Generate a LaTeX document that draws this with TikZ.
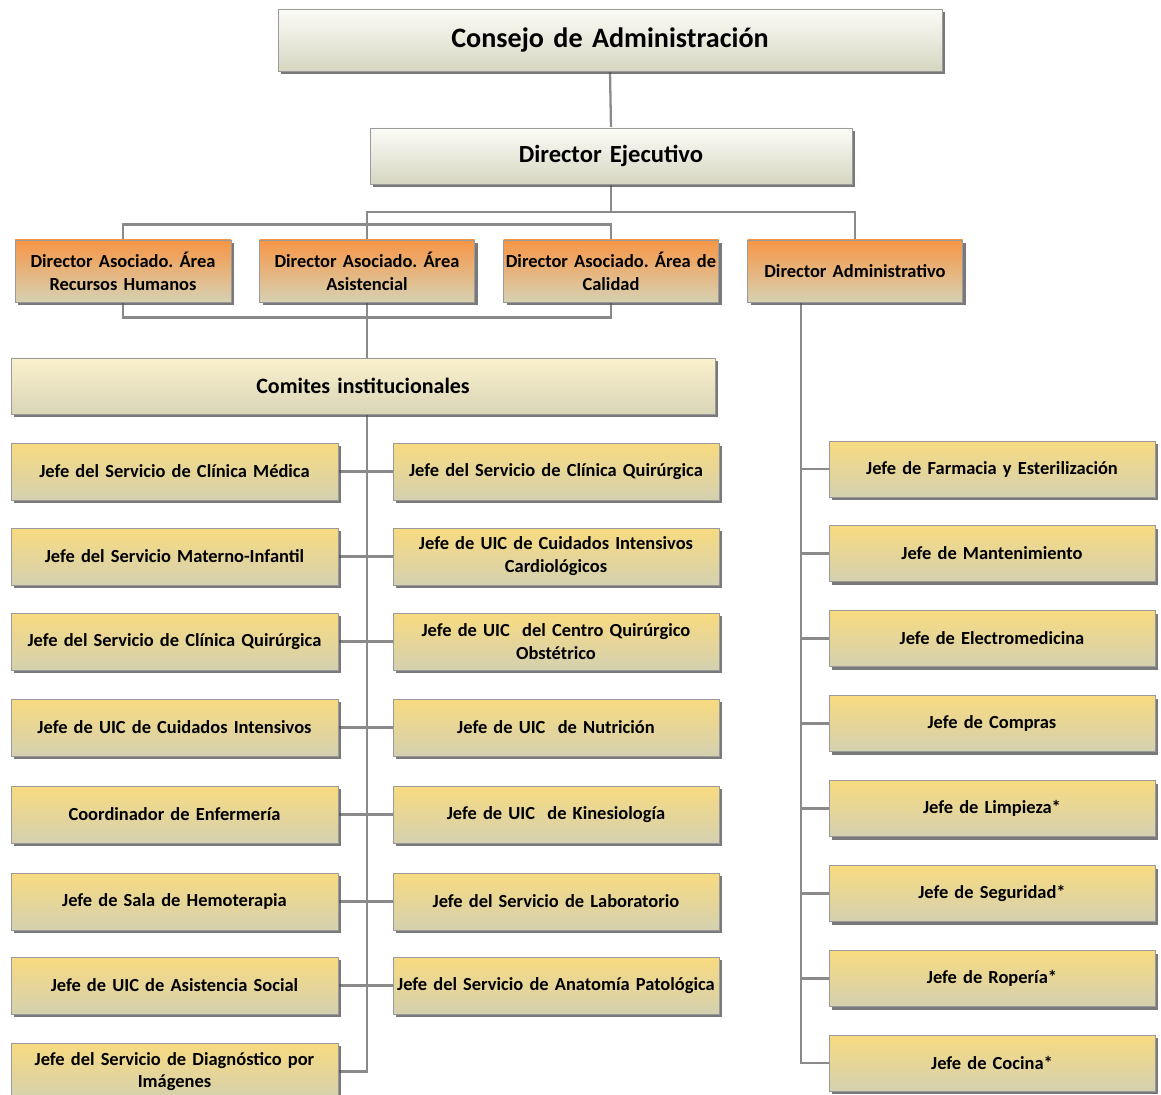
\documentclass[tikz,border=0pt]{standalone}
\usepackage{fontspec}
\setmainfont{Carlito}
\usetikzlibrary{shadows,backgrounds}
\definecolor{bordc}{HTML}{9A9A9A}
\definecolor{linec}{HTML}{8A8A8A}
\definecolor{orgtop}{HTML}{F79646}
\definecolor{orgbot}{HTML}{D6D1B2}
\definecolor{yeltop}{HTML}{F8DB80}
\definecolor{yelbot}{HTML}{D4D0B0}
\definecolor{crtop}{HTML}{FBF1CC}
\definecolor{crbot}{HTML}{D9D5B8}
\definecolor{grtop}{HTML}{FCFCF7}
\definecolor{grbot}{HTML}{D6D6C2}
\newcommand{\tightsp}{\frenchspacing\spaceskip=0.17em plus 0.1em minus 0.05em\hyphenpenalty=10000}
\tikzset{
  x=0.02cm, y=-0.02cm,
  basebox/.style={draw=bordc, line width=0.5pt, inner sep=0pt, align=center,
    font=\bfseries\fontsize{10.5}{13}\selectfont\tightsp,
    drop shadow={shadow xshift=0.06cm, shadow yshift=-0.06cm, fill=black!70, opacity=0.75}},
  wh/.style 2 args={minimum width=#1*0.02cm, minimum height=#2*0.02cm, text width=#1*0.02cm},
  graybox/.style={basebox, top color=grtop, bottom color=grbot},
  orgbox/.style={basebox, top color=orgtop, bottom color=orgbot},
  crbox/.style={basebox, top color=crtop, bottom color=crbot},
  yelbox/.style={basebox, top color=yeltop, bottom color=yelbot},
  conn/.style={draw=linec, line width=1.3pt},
}
\begin{document}
\begin{tikzpicture}
\useasboundingbox (0,0) rectangle (1161,1095);
% top
\node[graybox, wh={664}{62}, font=\bfseries\fontsize{16}{19}\selectfont\tightsp] (cons) at (610,40) {Consejo de Administración};
\node[graybox, wh={482}{56}, font=\bfseries\fontsize{14}{17}\selectfont\tightsp] (de) at (611,156) {Director Ejecutivo};
% associates
\node[orgbox, wh={216}{62}] (rrhh) at (123,271) {Director Asociado. Área\\Recursos Humanos};
\node[orgbox, wh={215}{62}] (asis) at (367,271) {Director Asociado. Área\\Asistencial};
\node[orgbox, wh={215}{62}] (cal) at (611,271) {Director Asociado. Área de\\Calidad};
\node[orgbox, wh={215}{62}] (adm) at (855,271) {Director Administrativo};
% comites
\node[crbox, wh={704}{56}, font=\bfseries\fontsize{12.5}{15}\selectfont\tightsp] (com) at (363,386) {Comites institucionales};
% left column
\node[yelbox, wh={327}{57}] (l1) at (174.5,471.5) {Jefe del Servicio de Clínica Médica};
\node[yelbox, wh={327}{57}] (l2) at (174.5,556.5) {Jefe del Servicio Materno-Infantil};
\node[yelbox, wh={327}{57}] (l3) at (174.5,641.5) {Jefe del Servicio de Clínica Quirúrgica};
\node[yelbox, wh={327}{57}] (l4) at (174.5,727.5) {Jefe de UIC de Cuidados Intensivos};
\node[yelbox, wh={327}{57}] (l5) at (174.5,814.5) {Coordinador de Enfermería};
\node[yelbox, wh={327}{57}] (l6) at (174.5,901.5) {Jefe de Sala de Hemoterapia};
\node[yelbox, wh={327}{57}] (l7) at (174.5,985.5) {Jefe de UIC de Asistencia Social};
\node[yelbox, wh={327}{57}] (l8) at (174.5,1071.5) {Jefe del Servicio de Diagnóstico por\\Imágenes};
% right column
\node[yelbox, wh={326}{57}] (r1) at (556,471.5) {Jefe del Servicio de Clínica Quirúrgica};
\node[yelbox, wh={326}{57}] (r2) at (556,556.5) {Jefe de UIC de Cuidados Intensivos\\Cardiológicos};
\node[yelbox, wh={326}{57}] (r3) at (556,641.5) {Jefe de UIC \ del Centro Quirúrgico\\Obstétrico};
\node[yelbox, wh={326}{57}] (r4) at (556,727.5) {Jefe de UIC \ de Nutrición};
\node[yelbox, wh={326}{57}] (r5) at (556,814.5) {Jefe de UIC \ de Kinesiología};
\node[yelbox, wh={326}{57}] (r6) at (556,901.5) {Jefe del Servicio de Laboratorio};
\node[yelbox, wh={326}{57}] (r7) at (556,985.5) {Jefe del Servicio de Anatomía Patológica};
% admin column
\node[yelbox, wh={326}{56}] (a1) at (992,469) {Jefe de Farmacia y Esterilización};
\node[yelbox, wh={326}{56}] (a2) at (992,553.5) {Jefe de Mantenimiento};
\node[yelbox, wh={326}{56}] (a3) at (992,638.5) {Jefe de Electromedicina};
\node[yelbox, wh={326}{56}] (a4) at (992,723.5) {Jefe de Compras};
\node[yelbox, wh={326}{56}] (a5) at (992,808.5) {Jefe de Limpieza*};
\node[yelbox, wh={326}{56}] (a6) at (992,893.5) {Jefe de Seguridad*};
\node[yelbox, wh={326}{56}] (a7) at (992,978.5) {Jefe de Ropería*};
\node[yelbox, wh={326}{56}] (a8) at (992,1063) {Jefe de Cocina*};
% connectors
\begin{pgfonlayer}{background}
\coordinate (j1) at (611,212);
\coordinate (av) at (801,302);
\draw[conn] (cons.south) -- (de.north);
\draw[conn] (de.south) -- (j1);
\draw[conn] (asis.north) |- (j1) -| (adm.north);
\draw[conn] (rrhh.north) -- ++(0,-15) -| (cal.north);
\draw[conn] (rrhh.south) -- ++(0,15) -| (cal.south);
\draw[conn] (asis.south) -- (asis.south |- com.north);
\draw[conn] (asis.south |- com.south) |- (l8.east);
\foreach \i in {1,...,7} {\draw[conn] (l\i.east) -- (r\i.west);}
\draw[conn] (av) |- (a8.west);
\foreach \i in {1,...,7} {\draw[conn] (av |- a\i.west) -- (a\i.west);}
\end{pgfonlayer}
\end{tikzpicture}
\end{document}
